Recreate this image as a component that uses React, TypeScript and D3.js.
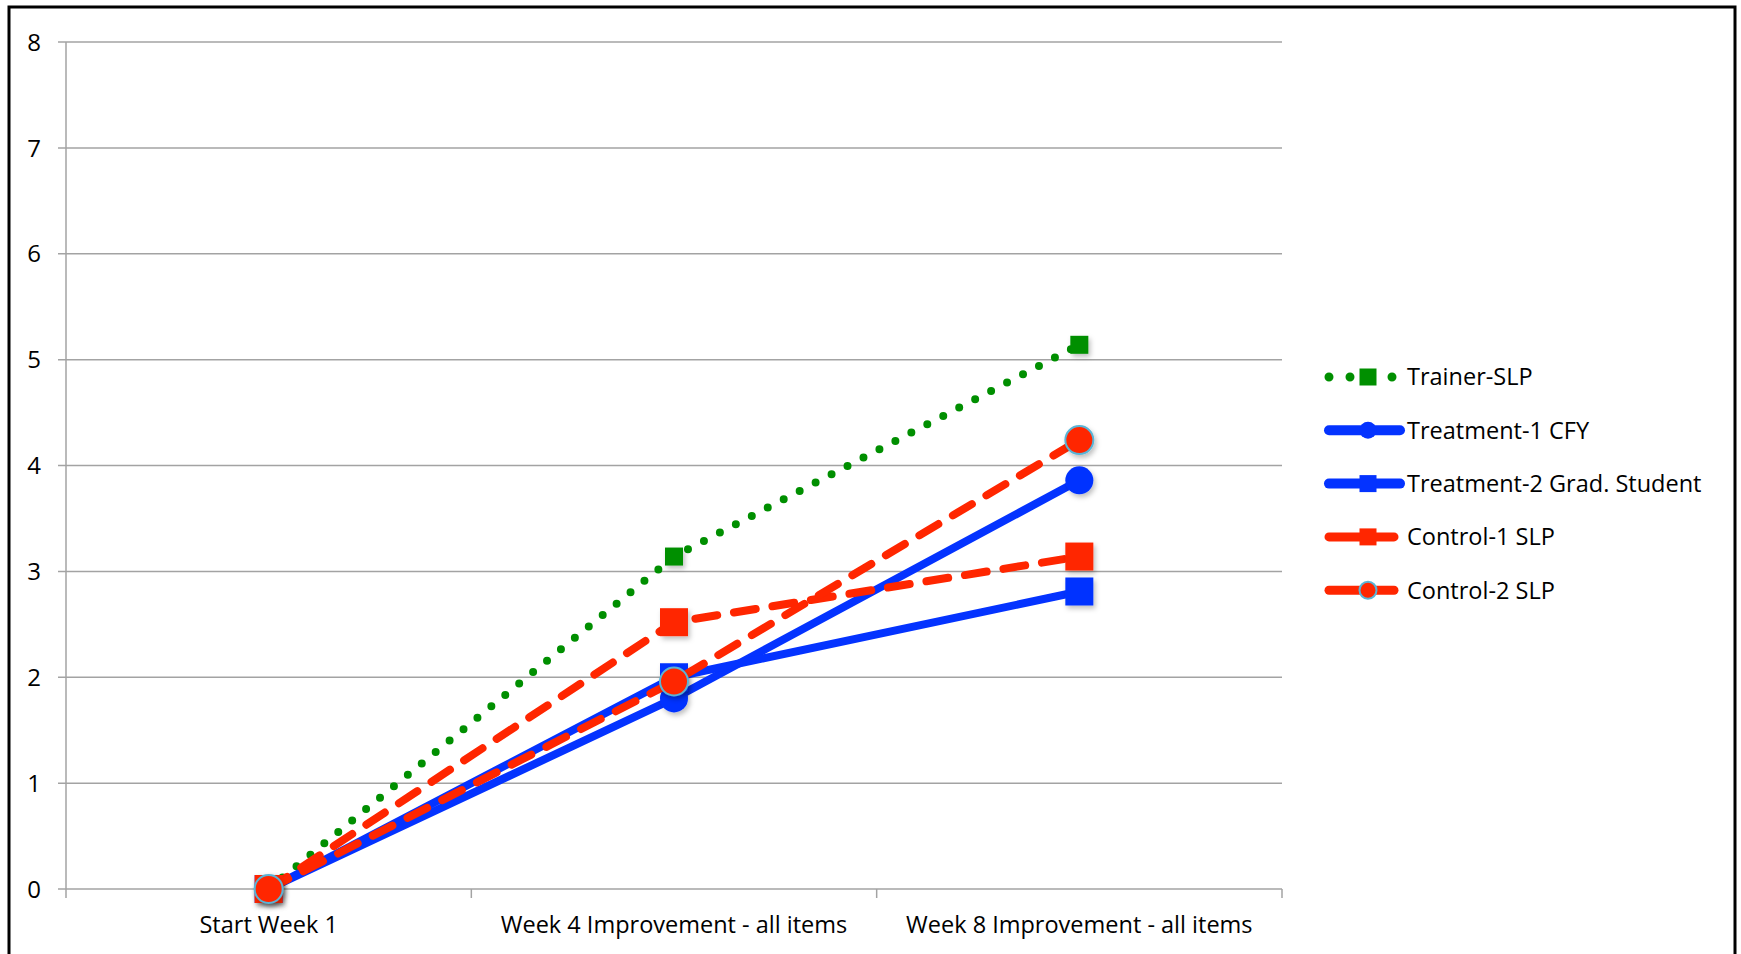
import React from "react";
import * as d3 from "d3";

// Categories along the x axis
const categories = ["Start Week 1", "Week 4 Improvement - all items", "Week 8 Improvement - all items"];

// Series values (one per category)
const trainerSLP = [0, 3.14, 5.14];
const treatment1CFY = [0, 1.8, 3.86];
const treatment2Grad = [0, 2.0, 2.81];
const control1SLP = [0, 2.52, 3.14];
const control2SLP = [0, 1.96, 4.24];

const yTicks = [0, 1, 2, 3, 4, 5, 6, 7, 8];

const seriesNames = [
  "Trainer-SLP",
  "Treatment-1 CFY",
  "Treatment-2 Grad. Student",
  "Control-1 SLP",
  "Control-2 SLP",
];

const GREEN = "#008f00";
const BLUE = "#0433ff";
const RED = "#ff2600";
const GRID = "#a3a3a3";
const FONT = "'Open Sans', 'Noto Sans', sans-serif";

type Series = {
  name: string;
  values: number[];
  color: string;
  dash: string;
  width: number;
  marker: "square" | "circle";
  size: number;
  legendSize: number;
  ring?: string;
};

const series: Series[] = [
  { name: seriesNames[0], values: trainerSLP, color: GREEN, dash: "0 18", width: 8, marker: "square", size: 18, legendSize: 17 },
  { name: seriesNames[1], values: treatment1CFY, color: BLUE, dash: "", width: 8, marker: "circle", size: 28, legendSize: 17 },
  { name: seriesNames[2], values: treatment2Grad, color: BLUE, dash: "", width: 8, marker: "square", size: 28, legendSize: 17 },
  { name: seriesNames[3], values: control1SLP, color: RED, dash: "22 17", width: 8, marker: "square", size: 28, legendSize: 17 },
  { name: seriesNames[4], values: control2SLP, color: RED, dash: "22 17", width: 8, marker: "circle", size: 28, legendSize: 17, ring: "#5ab4d6" },
];

const W = 1741;
const H = 954;
const plotLeft = 66;
const plotRight = 1282;
const plotTop = 42;
const plotBottom = 889;

function Marker({ s, cx, cy, size }: { s: Series; cx: number; cy: number; size: number }) {
  if (s.marker === "square") {
    return <rect x={cx - size / 2} y={cy - size / 2} width={size} height={size} fill={s.color} />;
  }
  return (
    <circle
      cx={cx}
      cy={cy}
      r={size / 2}
      fill={s.color}
      stroke={s.ring || "none"}
      strokeWidth={s.ring ? 2 : 0}
    />
  );
}

export default function App() {
  const x = d3.scaleBand<string>().domain(categories).range([plotLeft, plotRight]).padding(0);
  const y = d3.scaleLinear().domain([0, 8]).range([plotBottom, plotTop]);
  const cx = (c: string) => (x(c) as number) + x.bandwidth() / 2;

  const line = d3
    .line<number>()
    .x((_, i) => cx(categories[i]))
    .y((v) => y(v));

  const boundaries = [plotLeft, ...categories.map((c) => (x(c) as number) + x.bandwidth())];

  const legendX = 1329;
  const legendLineEnd = 1400;
  const legendMid = 1368;
  const legendTextX = 1407;
  const legendY0 = 377;
  const legendStep = 53.3;

  return (
    <svg
      width={W}
      height={H}
      style={{ position: "absolute", left: 0, top: 0, display: "block", background: "#fff" }}
    >
      <defs>
        <filter id="mshadow" x="-50%" y="-50%" width="200%" height="200%">
          <feDropShadow dx="2" dy="3" stdDeviation="2.5" floodColor="#000" floodOpacity="0.25" />
        </filter>
      </defs>
      <rect x={0} y={0} width={W} height={H} fill="#fff" />
      {/* outer frame */}
      <rect x={9} y={7} width={1726} height={1000} fill="none" stroke="#000" strokeWidth={3} />

      {/* horizontal gridlines and y tick labels */}
      {yTicks.map((t) => (
        <g key={t}>
          <line x1={58} x2={plotRight} y1={y(t)} y2={y(t)} stroke={GRID} strokeWidth={1.5} />
          <text
            x={41}
            y={y(t)}
            dy="0.36em"
            textAnchor="end"
            fontFamily={FONT}
            fontSize={24}
            fill="#000"
          >
            {t}
          </text>
        </g>
      ))}

      {/* y axis */}
      <line x1={plotLeft} x2={plotLeft} y1={plotTop} y2={plotBottom} stroke={GRID} strokeWidth={1.5} />
      {/* x axis ticks at category boundaries */}
      {boundaries.map((b, i) => (
        <line key={i} x1={b} x2={b} y1={plotBottom} y2={plotBottom + 9} stroke={GRID} strokeWidth={1.5} />
      ))}
      {categories.map((c) => (
        <text
          key={c}
          x={cx(c)}
          y={925}
          dy="0.35em"
          textAnchor="middle"
          fontFamily={FONT}
          fontSize={23.5}
          fill="#000"
        >
          {c}
        </text>
      ))}

      {/* series: line then markers, in legend order */}
      {series.map((s) => (
        <g key={s.name}>
          <path
            d={line(s.values) || ""}
            fill="none"
            stroke={s.color}
            strokeWidth={s.width}
            strokeDasharray={s.dash || undefined}
            strokeLinecap="round"
            strokeLinejoin="round"
          />
          <g filter="url(#mshadow)">
            {s.values.map((v, i) => (
              <Marker key={i} s={s} cx={cx(categories[i])} cy={y(v)} size={s.size} />
            ))}
          </g>
        </g>
      ))}

      {/* legend */}
      {series.map((s, i) => {
        const ly = legendY0 + i * legendStep;
        const end = s.color === RED ? 1394 : legendLineEnd;
        return (
          <g key={s.name}>
            <line
              x1={legendX}
              x2={end}
              y1={ly}
              y2={ly}
              stroke={s.color}
              strokeWidth={s.color === BLUE ? 10 : 9}
              strokeDasharray={s.color === GREEN ? "0 21" : undefined}
              strokeLinecap="round"
            />
            <Marker s={s} cx={legendMid} cy={ly} size={s.legendSize} />
            <text
              x={legendTextX}
              y={ly}
              dy="0.36em"
              fontFamily={FONT}
              fontSize={23.5}
              fill="#000"
            >
              {s.name}
            </text>
          </g>
        );
      })}
    </svg>
  );
}
